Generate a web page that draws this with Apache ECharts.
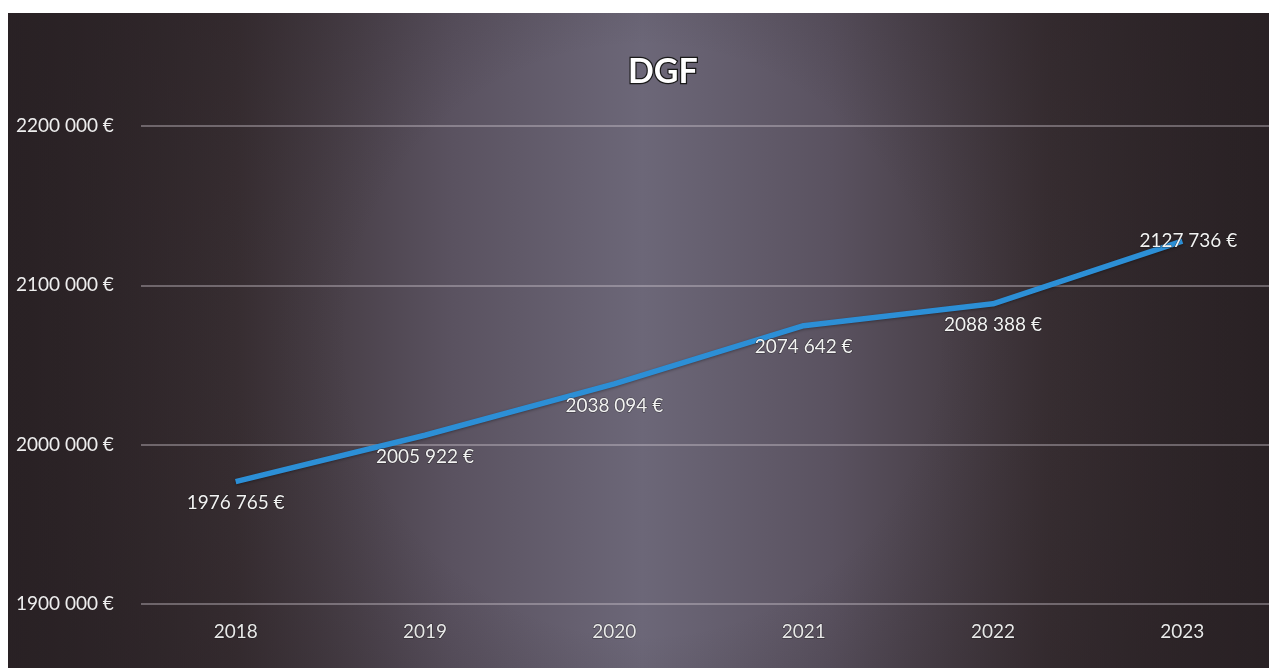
<!DOCTYPE html>
<html>
<head>
<meta charset="utf-8">
<script src="https://cdn.jsdelivr.net/npm/echarts@6/dist/echarts.min.js"></script>
<style>
html,body{margin:0;padding:0;background:#ffffff;width:1269px;height:668px;overflow:hidden;position:relative;}
#c{position:absolute;left:8px;top:13px;width:1269px;height:655px;}
</style>
</head>
<body>
<div id="c"></div>
<script>
const categories = ['2018', '2019', '2020', '2021', '2022', '2023'];
const values = [1976765, 2005922, 2038094, 2074642, 2088388, 2127736];
const yTicks = [1900000, 2000000, 2100000, 2200000];

function fmt(v) {
  const s = String(Math.round(v));
  const thousands = s.slice(-3);
  const rest = s.slice(0, -3);
  return rest + ' ' + thousands + ' €';
}

const chart = echarts.init(document.getElementById('c'));
const fontFam = 'Lato, "Open Sans", sans-serif';

const seriesData = values.map((v, i) => {
  const d = { value: v };
  if (i === values.length - 1) {
    d.label = { position: 'inside', offset: [6, 0] };
  }
  return d;
});

chart.setOption({
  backgroundColor: {
    type: 'linear', x: 0, y: 0, x2: 1, y2: 0,
    colorStops: [
      { offset: 0, color: '#2a2224' },
      { offset: 0.18, color: '#3a3034' },
      { offset: 0.35, color: '#5a5260' },
      { offset: 0.5, color: '#6c6778' },
      { offset: 0.65, color: '#5a5260' },
      { offset: 0.82, color: '#3a3034' },
      { offset: 1, color: '#2a2224' }
    ]
  },
  graphic: [{
    type: 'rect',
    left: 0, top: 0, z: -10, silent: true,
    shape: { width: 1269, height: 655 },
    style: {
      fill: {
        type: 'radial', x: 0.5, y: 0.5, r: 1.0,
        colorStops: [
          { offset: 0, color: 'rgba(40,32,36,0)' },
          { offset: 0.45, color: 'rgba(40,32,36,0)' },
          { offset: 1, color: 'rgba(40,32,36,0.6)' }
        ]
      }
    }
  }],
  title: {
    text: 'DGF',
    left: 620,
    top: 42,
    padding: 0,
    textStyle: {
      color: '#ffffff',
      fontSize: 34,
      fontWeight: 'bold',
      fontFamily: fontFam,
      textBorderColor: '#1a1a1a',
      textBorderWidth: 2.5
    }
  },
  grid: { left: 133, right: 0, top: 113, bottom: 64, containLabel: false },
  xAxis: {
    type: 'category',
    data: categories,
    boundaryGap: true,
    axisLine: { show: false },
    axisTick: { show: false },
    axisLabel: {
      color: '#e8e8e8', fontSize: 19, margin: 18, fontFamily: fontFam,
      textBorderColor: 'rgba(20,20,20,0.6)', textBorderWidth: 1
    }
  },
  yAxis: {
    type: 'value',
    min: 1900000, max: 2200000, interval: 100000,
    axisLine: { show: false },
    axisTick: { show: false },
    splitLine: { lineStyle: { color: 'rgba(215,210,215,0.5)', width: 1.5 } },
    axisLabel: {
      color: '#eeeeee', fontSize: 19, align: 'left', margin: 125, fontFamily: fontFam,
      formatter: function (v) { return yTicks.indexOf(v) >= 0 ? fmt(v) : ''; }
    }
  },
  series: [{
    type: 'line',
    data: seriesData,
    symbol: 'circle',
    symbolSize: 0,
    showSymbol: true,
    lineStyle: { color: '#2c8fd6', width: 5.5, shadowColor: 'rgba(0,0,0,0.35)', shadowBlur: 3, shadowOffsetY: 1 },
    itemStyle: { color: '#2c8fd6' },
    label: {
      show: true,
      position: 'bottom',
      distance: 12,
      color: '#f2f2f2',
      fontSize: 19,
      fontFamily: fontFam,
      textBorderColor: 'rgba(20,20,20,0.6)',
      textBorderWidth: 1,
      formatter: function (p) { return fmt(p.value); }
    }
  }]
});
</script>
</body>
</html>
